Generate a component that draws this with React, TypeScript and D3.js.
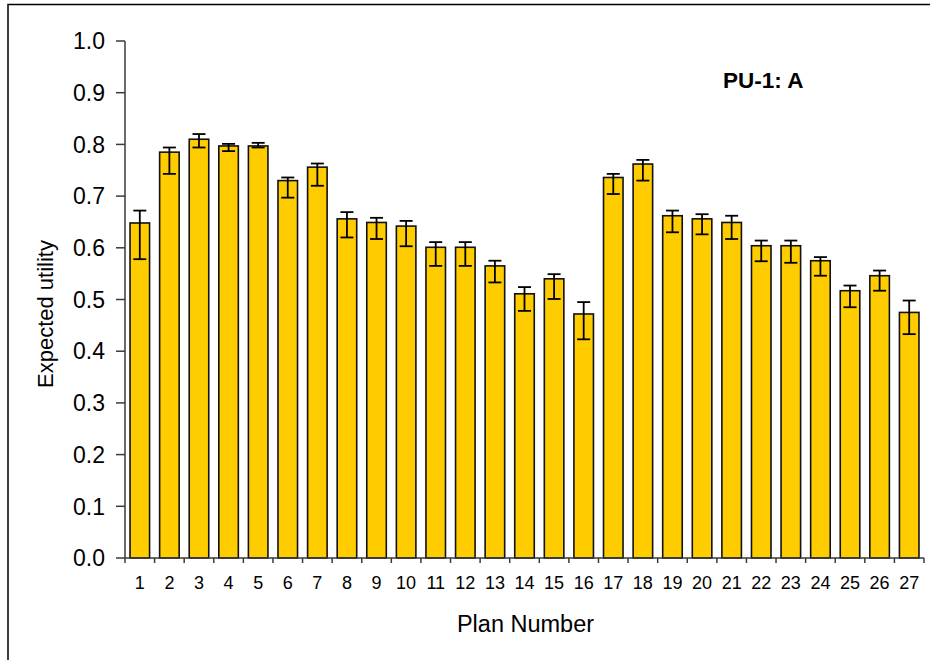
import React from "react";
import * as d3 from "d3";

// Expected utility per plan, with lower/upper error-bar limits
const plans = d3.range(1, 28);
const utility = [0.648, 0.785, 0.81, 0.797, 0.797, 0.73, 0.756, 0.656, 0.649, 0.642, 0.601, 0.601, 0.565, 0.511, 0.54, 0.472, 0.736, 0.762, 0.662, 0.656, 0.649, 0.604, 0.604, 0.575, 0.517, 0.546, 0.475];
const upperLimit = [0.672, 0.794, 0.82, 0.801, 0.803, 0.736, 0.763, 0.669, 0.658, 0.652, 0.611, 0.611, 0.575, 0.524, 0.549, 0.495, 0.743, 0.77, 0.672, 0.665, 0.662, 0.614, 0.614, 0.582, 0.527, 0.556, 0.498];
const lowerLimit = [0.578, 0.743, 0.794, 0.787, 0.794, 0.697, 0.72, 0.62, 0.617, 0.603, 0.565, 0.565, 0.533, 0.478, 0.501, 0.423, 0.704, 0.73, 0.63, 0.626, 0.617, 0.574, 0.571, 0.546, 0.485, 0.517, 0.433];
const yTicks = [0, 0.1, 0.2, 0.3, 0.4, 0.5, 0.6, 0.7, 0.8, 0.9, 1.0];

const W = 930;
const H = 660;
const plot = { left: 125, right: 924, top: 41, bottom: 558 };
const font = "'Liberation Sans', Arial, sans-serif";

export default function App() {
  const x = d3
    .scaleBand<number>()
    .domain(plans)
    .range([plot.left, plot.right])
    .paddingInner(0.34)
    .paddingOuter(0.17);
  const y = d3.scaleLinear().domain([0, 1]).range([plot.bottom, plot.top]);
  const step = x.step();
  const bw = x.bandwidth();
  const boundary = (i: number) => plot.left + i * step;
  const capHalf = 6.5;

  return (
    <svg
      width={W}
      height={H}
      style={{ position: "absolute", left: 0, top: 0, background: "#fff" }}
      fontFamily={font}
    >
      {/* outer frame */}
      <rect x={8} y={4.5} width={W + 20} height={H + 20} fill="none" stroke="#000" strokeWidth={1.5} />

      {/* bars */}
      {plans.map((p, i) => (
        <rect
          key={`b${p}`}
          x={x(p)}
          y={y(utility[i])}
          width={bw}
          height={y(0) - y(utility[i])}
          fill="#FFCC00"
          stroke="#111"
          strokeWidth={1.6}
        />
      ))}

      {/* error bars */}
      {plans.map((p, i) => {
        const cx = (x(p) as number) + bw / 2;
        const yt = y(upperLimit[i]);
        const yb = y(lowerLimit[i]);
        return (
          <g key={`e${p}`} stroke="#000" strokeWidth={1.8}>
            <line x1={cx} x2={cx} y1={yt} y2={yb} />
            <line x1={cx - capHalf} x2={cx + capHalf} y1={yt} y2={yt} />
            <line x1={cx - capHalf} x2={cx + capHalf} y1={yb} y2={yb} />
          </g>
        );
      })}

      {/* y axis */}
      <line x1={plot.left} x2={plot.left} y1={plot.top} y2={plot.bottom} stroke="#3a3a3a" strokeWidth={1.5} />
      {yTicks.map((t) => (
        <g key={`yt${t}`}>
          <line x1={plot.left - 9} x2={plot.left} y1={y(t)} y2={y(t)} stroke="#3a3a3a" strokeWidth={1.5} />
          <text x={105} y={y(t)} dy="0.36em" textAnchor="end" fontSize={23} fill="#000">
            {d3.format(".1f")(t)}
          </text>
        </g>
      ))}

      {/* x axis */}
      <line x1={plot.left} x2={plot.right} y1={plot.bottom} y2={plot.bottom} stroke="#3a3a3a" strokeWidth={1.5} />
      {d3.range(0, plans.length + 1).map((i) => (
        <line
          key={`xt${i}`}
          x1={boundary(i)}
          x2={boundary(i)}
          y1={plot.bottom}
          y2={plot.bottom + 5}
          stroke="#3a3a3a"
          strokeWidth={1.5}
        />
      ))}
      {plans.map((p) => (
        <text key={`xl${p}`} x={(x(p) as number) + bw / 2} y={589} textAnchor="middle" fontSize={18} fill="#000">
          {p}
        </text>
      ))}

      {/* axis titles */}
      <text x={(plot.left + plot.right) / 2 + 1} y={632} textAnchor="middle" fontSize={23.5} fill="#000">
        Plan Number
      </text>
      <text
        transform={`translate(53, 314) rotate(-90)`}
        textAnchor="middle"
        fontSize={22}
        fill="#000"
      >
        Expected utility
      </text>

      {/* panel label */}
      <text x={723} y={88} fontSize={22.5} fontWeight="bold" fill="#000">
        PU-1: A
      </text>
    </svg>
  );
}
